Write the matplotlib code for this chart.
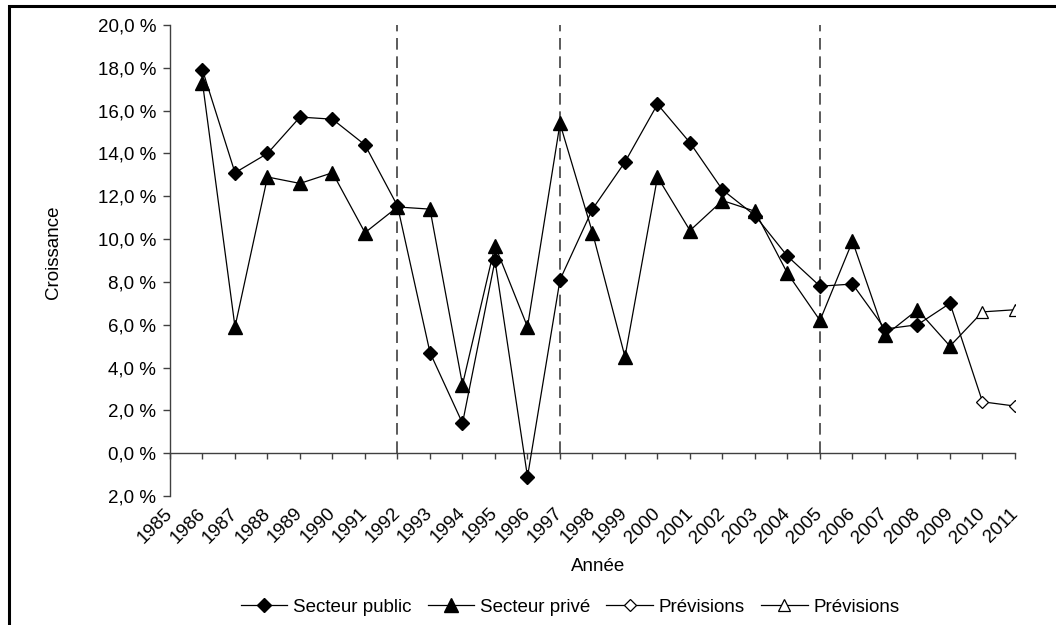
import matplotlib.pyplot as plt
from matplotlib.patches import Rectangle

plt.rcParams['font.family'] = ['Liberation Sans', 'DejaVu Sans']

# growth data (in %)
years = list(range(1986, 2010))
public = [17.9, 13.1, 14.0, 15.7, 15.6, 14.4, 11.55, 4.7, 1.4, 9.0, -1.1, 8.1,
          11.4, 13.6, 16.3, 14.5, 12.3, 11.1, 9.2, 7.8, 7.9, 5.8, 6.0, 7.0]
private = [17.3, 5.9, 12.9, 12.6, 13.1, 10.3, 11.5, 11.4, 3.2, 9.7, 5.9, 15.4,
           10.3, 4.5, 12.9, 10.4, 11.8, 11.3, 8.4, 6.2, 9.9, 5.5, 6.7, 5.0]

forecast_years = [2010, 2011]
forecast_public = [2.4, 2.2]
forecast_private = [6.6, 6.7]

break_years = [1992, 1997, 2005]

xtick_years = list(range(1985, 2012))
yticks = [-2, 0, 2, 4, 6, 8, 10, 12, 14, 16, 18, 20]
ytick_labels = ['2,0 %', '0,0 %', '2,0 %', '4,0 %', '6,0 %', '8,0 %', '10,0 %',
                '12,0 %', '14,0 %', '16,0 %', '18,0 %', '20,0 %']

fs = 13.5

fig = plt.figure(figsize=(10.56, 6.25), dpi=100)
ax = fig.add_axes([170 / 1056, 1 - 496 / 625, 845 / 1056, 471 / 625])

axis_gray = '#404040'

for yr in break_years:
    ax.plot([yr, yr], [0, 20], color='#404040', lw=1.2, ls=(0, (7, 4)), zorder=1)

ax.plot(years, private, color='black', lw=0.9, marker='^', ms=10,
        mfc='black', mec='black', label='Secteur privé', zorder=3)
ax.plot(years, public, color='black', lw=0.9, marker='D', ms=7,
        mfc='black', mec='black', label='Secteur public', zorder=4)

# forecasts continue from the last observed year
ax.plot([years[-1]] + forecast_years, [public[-1]] + forecast_public,
        color='black', lw=0.9, marker='D', ms=6, mfc='white', mec='black',
        mew=0.9, markevery=[1, 2], label='Prévisions', zorder=2)
ax.plot([years[-1]] + forecast_years, [private[-1]] + forecast_private,
        color='black', lw=0.9, marker='^', ms=8.5, mfc='white', mec='black',
        mew=0.9, markevery=[1, 2], label='Prévisions', zorder=2)

ax.set_xlim(1985, 2011)
ax.set_ylim(-2, 20)

for side in ['top', 'right']:
    ax.spines[side].set_visible(False)
ax.spines['bottom'].set_position(('data', 0))
ax.spines['bottom'].set_color(axis_gray)
ax.spines['left'].set_color(axis_gray)
ax.spines['bottom'].set_linewidth(1.0)
ax.spines['left'].set_linewidth(1.0)

ax.set_yticks(yticks)
ax.set_yticklabels(ytick_labels)
ax.set_xticks(xtick_years)
ax.set_xticklabels([str(y) for y in xtick_years], rotation=45, ha='right',
                   va='center', rotation_mode='anchor')
ax.tick_params(axis='y', length=5, width=1, color=axis_gray, pad=5, labelsize=fs)
ax.tick_params(axis='x', length=4.5, width=1, color=axis_gray, pad=37, labelsize=fs)

ax.set_xlabel('Année', fontsize=fs)
ax.xaxis.set_label_coords(0.507, -0.132)
ax.set_ylabel('Croissance', fontsize=fs)
ax.yaxis.set_label_coords(-0.128, 0.518)

handles, labels = ax.get_legend_handles_labels()
order = [1, 0, 2, 3]
fig.legend([handles[i] for i in order], [labels[i] for i in order],
           loc='center', bbox_to_anchor=(570 / 1056, 1 - 607 / 625), ncol=4,
           frameon=False, fontsize=fs, handlelength=2.5, handletextpad=0.3,
           columnspacing=0.85)

# outer frame of the original chart (cut off on the right and bottom)
fig.patches.append(Rectangle((9 / 1056, -0.1), 1.2, 1.1 - 6 / 625,
                             transform=fig.transFigure, fill=False,
                             edgecolor='black', lw=2.2))

fig.savefig('out.png', dpi=100)
